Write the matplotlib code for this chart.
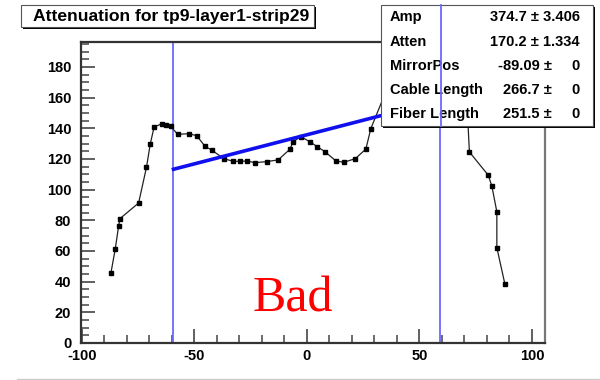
import numpy as np
import matplotlib
matplotlib.use('Agg')
import matplotlib.pyplot as plt
from matplotlib.patches import Rectangle
from matplotlib.lines import Line2D
from matplotlib.ticker import MultipleLocator

# measured points along the strip
xpos = [-87.1, -85.2, -83.7, -83.1, -74.8, -71.3, -69.6, -67.9, -64.6, -62.8, -60.6,
        -57.5, -52.4, -49.0, -45.3, -42.2, -36.9, -32.8, -29.8, -26.6, -23.1, -17.9,
        -12.8, -7.6, -6.1, -2.8, 1.3, 4.6, 8.0, 12.9, 16.4, 21.5, 26.2, 28.4,
        34.0, 71.0,
        72.2, 80.6, 82.2, 84.4, 84.4, 88.0]
signal = [45.7, 61.1, 76.1, 81.1, 91.3, 114.6, 130.0, 140.9, 142.9, 142.0, 141.5,
          136.1, 136.5, 135.2, 128.3, 125.7, 120.2, 118.5, 118.5, 118.7, 117.6, 118.3,
          119.4, 126.3, 131.3, 134.6, 131.3, 128.0, 124.8, 118.7, 117.9, 120.2, 126.5, 139.8,
          160.0, 160.0,
          124.6, 109.4, 102.2, 85.6, 62.2, 38.3]
# points hidden under the stat box are drawn without markers
marker_mask = [True] * 34 + [False, False] + [True] * 6

# fitted attenuation curve
fit_x = [-59.3, 0.0, 59.3]
fit_y = [113.3, 135.8, 158.3]

# fiducial cuts
cuts = [-59.3, 59.3]

par_names = ['Amp', 'Atten', 'MirrorPos', 'Cable Length', 'Fiber Length']
par_vals = ['374.7', '170.2', '-89.09', '266.7', '251.5']
par_errs = ['3.406', '1.334', '0', '0', '0']

title = 'Attenuation for tp9-layer1-strip29'

W, H = 600, 380
fig = plt.figure(figsize=(W / 100, H / 100), dpi=100)
fig.patch.set_facecolor('white')

ax = fig.add_axes([81 / W, 1 - 343 / H, (545 - 81) / W, (343 - 42) / H])
ax.set_xlim(-100.4, 105.8)
ax.set_ylim(0, 196.3)

# data curve
ax.plot(xpos, signal, color='#222222', lw=0.9, zorder=3)
mx = [x for x, m in zip(xpos, marker_mask) if m]
my = [y for y, m in zip(signal, marker_mask) if m]
ax.plot(mx, my, ls='none', marker='s', ms=2.4, color='black', zorder=4)

# fit and cut lines
ax.plot(fit_x, fit_y, color='#1010ee', lw=2.6, zorder=5)
for c in cuts:
    ax.axvline(c, color='#6a6aff', lw=1.3, zorder=2)

# ROOT-like axes
ax.xaxis.set_major_locator(MultipleLocator(50))
ax.xaxis.set_minor_locator(MultipleLocator(10))
ax.yaxis.set_major_locator(MultipleLocator(20))
ax.yaxis.set_minor_locator(MultipleLocator(5))
ax.tick_params(which='both', direction='in', top=False, right=False, color='#444444')
ax.tick_params(which='major', length=10, width=1.2)
ax.tick_params(which='minor', length=5.5, width=1.1)
ax.tick_params(axis='y', which='major', pad=7)
ax.tick_params(axis='x', which='major', pad=4.5)
ax.set_yticks(np.arange(0, 181, 20))
ax.set_yticklabels([str(v) for v in range(0, 181, 20)], fontweight='bold',
                   fontfamily='Liberation Sans', fontsize=10.5)
ax.set_xticks([-100, -50, 0, 50, 100])
ax.set_xticklabels(['-100', '-50', '0', '50', '100'], fontweight='bold',
                   fontfamily='Liberation Sans', fontsize=10.5)

ax.spines['left'].set_color('#333333')
ax.spines['bottom'].set_color('#333333')
ax.spines['top'].set_color('#333333')
ax.spines['right'].set_color('#777777')
for s in ax.spines.values():
    s.set_linewidth(1.6)

ax.text((293 - 81) / (545 - 81), (343 - 312) / (343 - 42), 'Bad', transform=ax.transAxes,
        color='red', fontsize=36, fontfamily='Liberation Serif', ha='center', va='baseline')


def fx(px):
    return px / W


def fy(py):
    return 1 - py / H


def shadow_box(x0, y0, x1, y1):
    fig.patches.append(Rectangle((fx(x0 + 2), fy(y1 + 2)), fx(x1 - x0), (y1 - y0) / H,
                                 transform=fig.transFigure, facecolor='black',
                                 edgecolor='none', zorder=10))
    fig.patches.append(Rectangle((fx(x0), fy(y1)), fx(x1 - x0), (y1 - y0) / H,
                                 transform=fig.transFigure, facecolor='white',
                                 edgecolor='#555555', lw=0.8, zorder=11))


# title box
shadow_box(21, 5, 314, 27)
fig.text(fx(33), fy(16.5), title, fontsize=12.6, fontweight='bold',
         fontfamily='Liberation Sans', va='center', ha='left', zorder=12)

# stat box
shadow_box(381, 5, 593, 126)
row_y = [17, 42, 66, 90, 114]
for name, val, err, py in zip(par_names, par_vals, par_errs, row_y):
    fig.text(fx(390), fy(py), name, fontsize=10.5, fontweight='bold',
             fontfamily='Liberation Sans', va='center', ha='left', zorder=12)
    if err == '0':
        fig.text(fx(552), fy(py), val + ' \u00b1', fontsize=10.5, fontweight='bold',
                 fontfamily='Liberation Sans', va='center', ha='right', zorder=12)
        fig.text(fx(580), fy(py), err, fontsize=10.5, fontweight='bold',
                 fontfamily='Liberation Sans', va='center', ha='right', zorder=12)
    else:
        fig.text(fx(580), fy(py), val + ' \u00b1 ' + err, fontsize=10.5, fontweight='bold',
                 fontfamily='Liberation Sans', va='center', ha='right', zorder=12)

# blue cut line shows through the stat box in the reference
fig.lines.append(Line2D([fx(441), fx(441)], [fy(5), fy(126)], transform=fig.transFigure,
                        color='#6a6aff', lw=1.3, zorder=13))

# slide edge line at the bottom
fig.lines.append(Line2D([fx(17), 1.0], [fy(378.5), fy(378.5)], transform=fig.transFigure,
                        color='#cccccc', lw=1.0))

fig.savefig('out.png', dpi=100)
